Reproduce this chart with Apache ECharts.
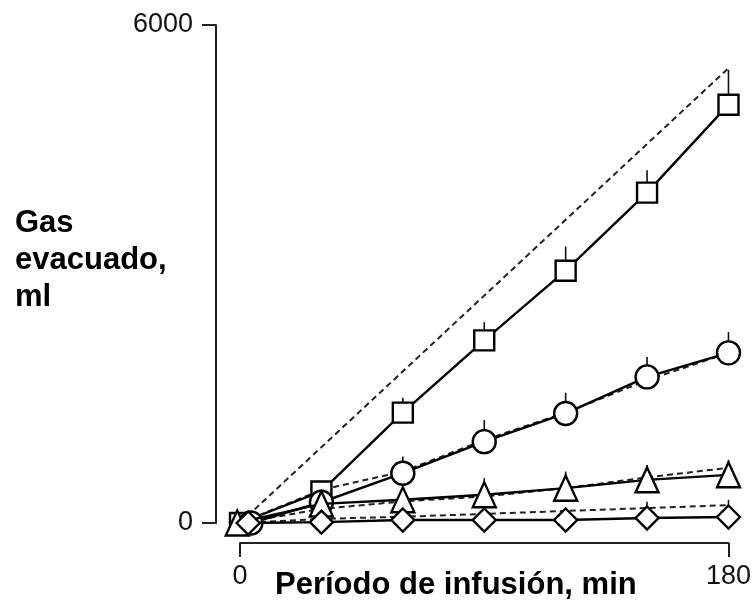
<!DOCTYPE html>
<html>
<head>
<meta charset="utf-8">
<script src="https://cdn.jsdelivr.net/npm/echarts@6/dist/echarts.min.js"></script>
<style>html,body{margin:0;padding:0;background:#fff}#c{width:754px;height:603px}</style>
</head>
<body>
<div id="c"></div>
<script>
// Time (min) for each measurement
var times = [0, 30, 60, 90, 120, 150, 180];
// Start offsets near origin (overlapping markers)
var sqX = [0, 30, 60, 90, 120, 150, 180];
var ciX = [4, 30, 60, 90, 120, 150, 180];
var trX = [-1, 30, 60, 90, 120, 150, 180];
var diX = [3, 30, 60, 90, 120, 150, 180];
// Measured gas (ml)
var squares   = [0, 380, 1330, 2200, 3040, 3980, 5040];
var circles   = [0, 250, 600, 980, 1320, 1760, 2050];
var triangles = [0, 230, 280, 340, 420, 520, 580];
var diamonds  = [0, 10, 36, 36, 36, 60, 72];
// Upper error bar ends (ml)
var sqUpper = [0, 450, 1510, 2420, 3330, 4250, 5460];
var ciUpper = [0, 250, 800, 1240, 1570, 2000, 2300];
var trUpper = [0, 230, 400, 540, 620, 700, 760];
var diUpper = [0, 10, 140, 140, 150, 255, 280];
// Dashed (predicted) lines
var dashTopX = [0, 180];
var dashTop = [0, 5480];
var dashCircle = [0, 400, 620, 1000, 1330, 1720, 2050];
var dashTriangle = [0, 170, 260, 320, 420, 550, 665];
var dashDiamond = [0, 50, 75, 110, 145, 180, 215];
// Axis ticks
var xTicks = [0, 180];
var yTicks = [0, 6000];

function pairs(xs, ys) { return xs.map(function (x, i) { return [x, ys[i]]; }); }
function triples(xs, ys, us) { return xs.map(function (x, i) { return [x, ys[i], us[i]]; }); }

var chart = echarts.init(document.getElementById('c'), null, {renderer: 'canvas'});
var axisColor = '#222';

function errSeries(xs, ys, us) {
  return {
    type: 'custom', z: 1, clip: false,
    data: triples(xs, ys, us),
    renderItem: function (params, api) {
      var p0 = api.coord([api.value(0), api.value(1)]);
      var p1 = api.coord([api.value(0), api.value(2)]);
      return {type: 'line', shape: {x1: p0[0], y1: p0[1], x2: p1[0], y2: p1[1]},
        style: {stroke: '#111', lineWidth: 1.6}};
    }
  };
}
function lineSeries(xs, ys, symbol, size, z) {
  return {
    type: 'line', z: z, clip: false, data: pairs(xs, ys),
    symbol: symbol, symbolSize: size, showSymbol: true,
    lineStyle: {color: '#000', width: 2.4},
    itemStyle: {color: '#fff', borderColor: '#000', borderWidth: 2.4},
    emphasis: {disabled: true}, animation: false
  };
}
function dashSeries(xs, ys) {
  return {
    type: 'line', z: 2, clip: false, data: pairs(xs, ys), symbol: 'none',
    lineStyle: {color: '#222', width: 2, type: [6, 4]}, animation: false
  };
}

chart.setOption({
  animation: false,
  grid: {left: 240, right: 19, top: 25, bottom: 80, containLabel: false},
  xAxis: {
    type: 'value', min: xTicks[0], max: xTicks[1], interval: 180,
    offset: 20,
    axisLine: {show: true, onZero: false, lineStyle: {color: axisColor, width: 2}},
    axisTick: {show: true, length: 14, lineStyle: {color: axisColor, width: 2}},
    axisLabel: {fontSize: 27, color: '#111', fontFamily: 'Liberation Sans', margin: 20,
      formatter: function (v) { return String(v); }},
    splitLine: {show: false}
  },
  yAxis: {
    type: 'value', min: yTicks[0], max: yTicks[1], interval: 6000,
    offset: 24,
    axisLine: {show: true, onZero: false, lineStyle: {color: axisColor, width: 2}},
    axisTick: {show: true, length: 14, lineStyle: {color: axisColor, width: 2}},
    axisLabel: {fontSize: 27, color: '#111', fontFamily: 'Liberation Sans', margin: 23,
      formatter: function (v) { return String(v); }},
    splitLine: {show: false}
  },
  graphic: [
    {type: 'text', left: 15, top: 205, style: {text: 'Gas\nevacuado,\nml', font: 'bold 31px "Liberation Sans"', lineHeight: 37, fill: '#000'}},
    {type: 'text', left: 275, top: 570, style: {text: 'Período de infusión, min', font: 'bold 31px "Liberation Sans"', fill: '#000'}}
  ],
  series: [
    dashSeries(dashTopX, dashTop),
    dashSeries(times, dashCircle),
    dashSeries(times, dashTriangle),
    dashSeries(times, dashDiamond),
    errSeries(sqX, squares, sqUpper),
    errSeries(ciX, circles, ciUpper),
    errSeries(trX, triangles, trUpper),
    errSeries(diX, diamonds, diUpper),
    lineSeries(sqX, squares, 'rect', 20, 3),
    lineSeries(ciX, circles, 'circle', 23, 4),
    lineSeries(trX, triangles, 'triangle', [23, 25], 5),
    lineSeries(diX, diamonds, 'diamond', [23, 23], 6)
  ]
});
</script>
</body>
</html>
